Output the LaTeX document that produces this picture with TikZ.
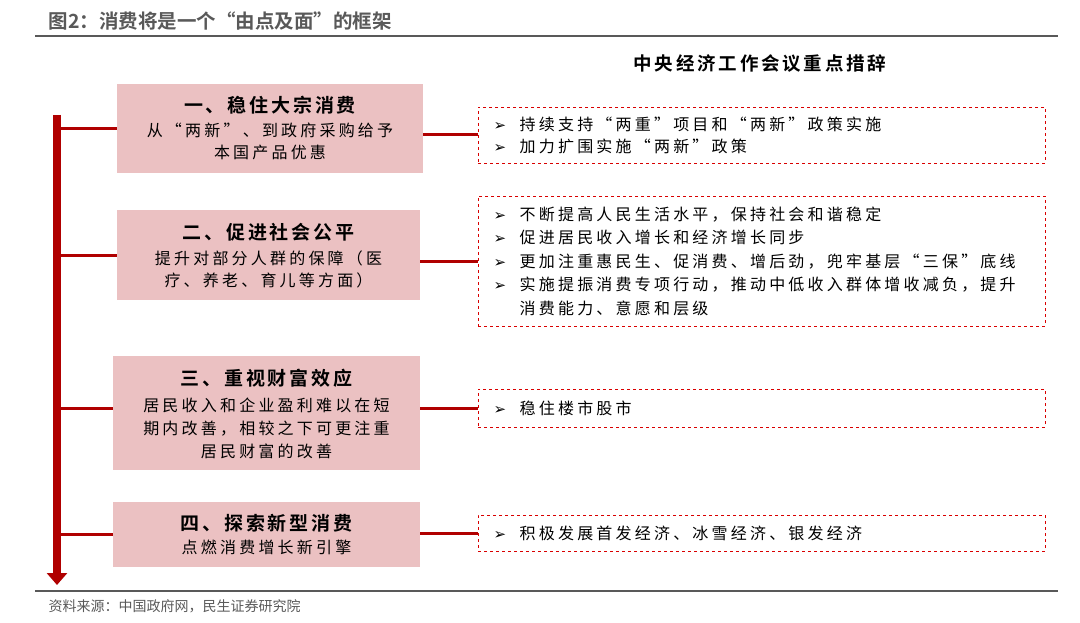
\documentclass[tikz,border=0pt]{standalone}
\usepackage{fontspec}
\newfontfamily\cjk[LetterSpace=20]{Noto Sans CJK SC}
\newfontfamily\cjkb[LetterSpace=15]{Noto Sans CJK SC Bold}
\newfontfamily\cjkt{Noto Sans CJK SC Bold}
\newfontfamily\cjks{Noto Sans CJK SC}
\newfontfamily\dv{DejaVu Sans}
\newcommand{\bul}{{\dv\fontsize{15}{15}\selectfont ➢}\ \ }
\usetikzlibrary{arrows.meta}
\definecolor{dred}{HTML}{B00000}
\definecolor{pinkf}{HTML}{EBC1C2}
\definecolor{gr}{HTML}{595959}
\begin{document}
\begin{tikzpicture}[x=1pt,y=-1pt,
  pbox/.style={fill=pinkf,draw=none,inner sep=0,align=center},
  dbox/.style={draw=red!85!black,dashed,line width=0.9pt,inner sep=0},
  conn/.style={draw=dred,line width=3pt},
  ttl/.style={font=\cjkb\fontsize{19}{22}\selectfont},
  sub/.style={font=\cjk\fontsize{16}{22}\selectfont,align=center},
  item/.style={anchor=west,font=\cjk\fontsize{16}{22}\selectfont,align=left,text=black}]
\useasboundingbox (0,0) rectangle (1080,623);
\node[anchor=west,font=\cjkt\fontsize{19.5}{22}\selectfont,text=gr] (title) at (45,21) {图2：消费将是一个“由点及面”的框架};
\draw[gr,line width=1.2pt] (35,36) -- (1058,36);
\node[font=\cjkb\fontsize{18.5}{20}\selectfont] (hdr) at (760,63) {中央经济工作会议重点措辞};
% arrow
\coordinate (atop) at (57,115);
\coordinate (abot) at (57,585);
\draw[dred,line width=8pt,-{Triangle[length=12pt,width=20pt]}] (atop) -- (abot);
% boxes
\node[pbox,minimum width=306,minimum height=89] (b1) at (270,128.5) {};
\node[ttl] at (270,105) {一、稳住大宗消费};
\node[sub] at (270,141) {从“两新”、到政府采购给予\\本国产品优惠};
\node[pbox,minimum width=303,minimum height=90] (b2) at (268.5,255) {};
\node[ttl] at (268.5,232) {二、促进社会公平};
\node[sub] at (268.5,269) {提升对部分人群的保障（医\\疗、养老、育儿等方面）};
\node[pbox,minimum width=307,minimum height=114] (b3) at (266.5,413) {};
\node[ttl] at (266.5,378) {三、重视财富效应};
\node[sub,font=\cjk\fontsize{16}{23}\selectfont] at (266.5,428) {居民收入和企业盈利难以在短\\期内改善，相较之下可更注重\\居民财富的改善};
\node[pbox,minimum width=307,minimum height=65] (b4) at (266.5,534.5) {};
\node[ttl] at (266.5,523) {四、探索新型消费};
\node[sub] at (266.5,547) {点燃消费增长新引擎};
% dashed boxes
\node[dbox,minimum width=567,minimum height=56] (d1) at (761.5,135) {};
\node[item] at (490,135) {\bul 持续支持“两重”项目和“两新”政策实施\\\bul 加力扩围实施“两新”政策};
\node[dbox,minimum width=567,minimum height=130] (d2) at (761.5,261) {};
\node[item,font=\cjk\fontsize{16}{23.5}\selectfont] at (490,261) {\bul 不断提高人民生活水平，保持社会和谐稳定\\\bul 促进居民收入增长和经济增长同步\\\bul 更加注重惠民生、促消费、增后劲，兜牢基层“三保”底线\\\bul 实施提振消费专项行动，推动中低收入群体增收减负，提升\\\phantom{\bul}消费能力、意愿和层级};
\node[dbox,minimum width=567,minimum height=38] (d3) at (761.5,408) {};
\node[item] at (490,408) {\bul 稳住楼市股市};
\node[dbox,minimum width=567,minimum height=36] (d4) at (761.5,533) {};
\node[item] at (490,533) {\bul 积极发展首发经济、冰雪经济、银发经济};
% connectors
\coordinate (l1) at (60,128.5);
\coordinate (l2) at (60,255);
\coordinate (l3) at (60,408);
\coordinate (l4) at (60,534.5);
\draw[conn] (l1) -- (b1.west);
\draw[conn] (l2) -- (b2.west);
\draw[conn] (l3) -- (b3.west|-l3);
\draw[conn] (l4) -- (b4.west);
\draw[conn] (b1.east|-d1) -- (d1.west);
\draw[conn] (b2.east|-d2) -- (d2.west);
\draw[conn] (b3.east|-d3) -- (d3.west);
\draw[conn] (b4.east|-d4) -- (d4.west);
\draw[gr,line width=1.2pt] (35,591) -- (1058,591);
\node[anchor=west,font=\cjks\fontsize{14}{15}\selectfont,text=gr] (src) at (45,606) {资料来源：中国政府网，民生证券研究院};
\end{tikzpicture}
\end{document}
